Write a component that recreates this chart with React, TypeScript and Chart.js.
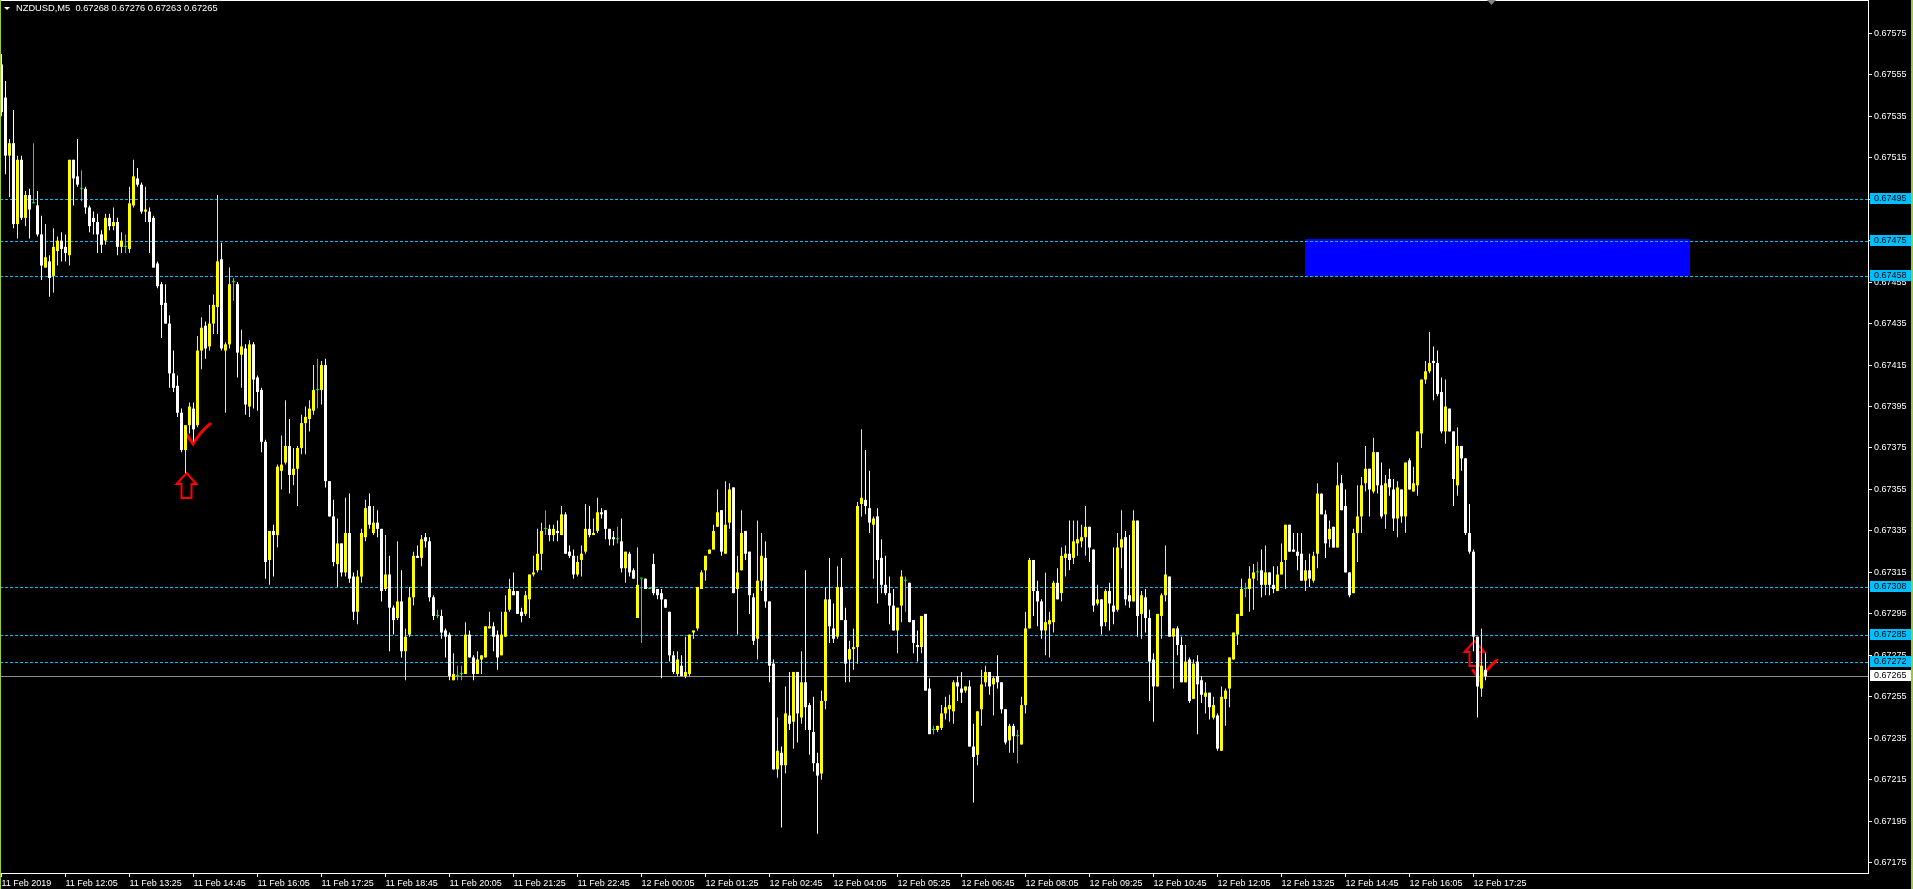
import React, { useEffect, useRef } from "react";
import { Chart, registerables } from "chart.js";

Chart.register(...registerables);

// Prices are stored as points above 0.67000 (1 point = 0.00001)
const opens = [
  560,544,516,522,483,514,486,497,493,492, 478,462,465,458,470,475,472,468,514,506,
  500,500,491,486,484,478,475,486,482,484, 472,472,471,492,505,502,489,489,486,464,
  454,445,435,411,405,392,374,386,394,386, 422,434,424,435,443,466,422,425,455,454,
  420,423,395,425,409,403,378,321,335,333, 364,368,376,362,365,375,387,389,393,403,
  403,415,359,342,319,329,315,334,313,296, 313,332,347,334,339,336,307,314,298,293,
  301,277,285,303,323,322,332,330,303,294, 294,287,285,263,265,266,266,285,274,266,
  273,274,288,289,285,275,284,297,306,306, 296,295,302,314,316,324,336,336,333,335,
  333,343,325,323,314,321,325,336,333,335, 344,345,336,332,331,330,317,324,316,293,
  312,312,307,319,307,305,302,296,275,266, 270,265,266,286,288,307,316,324,326,337,
  345,324,339,356,307,316,335,325,303,283, 311,322,301,271,220,228,222,246,243,267,
  245,262,251,238,223,218,253,302,288,284, 308,292,273,278,279,348,350,346,338,342,
  322,309,305,299,287,299,311,310,292,280, 279,295,259,239,239,240,247,249,248,262,
  259,258,260,231,227,249,262,267,261,265, 262,249,234,241,236,232,251,288,321,306,
  301,287,290,291,310,305,322,324,322,329, 330,332,337,326,300,302,291,306,299,297,
  327,332,304,301,340,295,303,293,273,260, 294,304,313,284,288,280,262,273,254,272,
  263,255,257,245,246,229,254,259,273,285, 294,307,307,312,315,316,309,315,309,306,
  314,321,338,326,325,324,311,316,311,324, 353,343,331,337,327,358,347,315,305,334,
  342,358,365,354,373,357,343,360,355,341, 355,342,369,354,357,382,408,412,417,416,
  402,383,394,383,357,376,370,334,325,284, 259,268,
];
const highs = [
  565,552,524,538,516,516,499,500,522,499, 487,483,468,481,477,479,478,514,514,524,
  509,501,492,489,488,480,488,488,491,486, 479,478,501,514,510,503,501,491,487,465,
  455,454,439,422,410,394,386,397,397,429, 438,436,444,449,497,474,426,462,457,455,
  432,425,427,426,410,404,379,335,338,367, 381,398,389,375,376,391,395,398,415,418,
  417,418,359,350,341,329,351,353,315,316, 336,350,353,347,345,336,333,323,299,330,
  316,288,308,325,328,333,334,332,304,297, 297,288,286,276,270,270,291,287,275,277,
  275,289,296,291,287,296,304,312,315,306, 298,306,314,323,336,339,345,338,338,340,
  347,344,328,326,323,328,348,347,341,351, 346,345,336,335,337,341,325,325,317,327,
  312,312,308,324,307,307,302,296,277,277, 275,284,285,287,308,316,323,326,338,355,
  345,359,358,356,323,345,335,325,305,340, 334,330,301,273,245,231,260,267,267,267,
  277,316,252,255,228,258,308,322,300,318, 322,298,282,288,349,384,374,364,342,346,
  331,323,313,307,298,316,313,310,292,287, 294,295,264,241,241,251,255,256,263,265,
  267,260,263,242,248,268,270,267,265,275, 262,249,242,242,239,255,296,322,321,311,
  302,315,296,311,317,327,328,340,340,340, 338,347,337,326,309,302,307,310,327,334,
  345,335,333,345,340,306,307,297,276,295, 305,328,313,288,289,284,280,274,273,275,
  265,262,257,255,247,260,259,274,286,295, 312,310,318,319,320,326,328,315,318,318,
  329,338,338,334,334,334,321,324,325,358, 353,345,340,337,368,362,355,315,336,357,
  361,376,365,380,373,368,362,365,360,359, 355,368,370,366,383,408,417,431,424,422,
  409,408,394,383,385,376,370,348,326,284, 288,276,
];
const lows = [
  535,507,496,481,476,485,482,476,493,477, 456,462,448,450,463,465,465,463,492,501,
  494,488,479,478,469,469,473,480,480,468, 469,469,469,491,501,488,484,469,462,452,
  428,435,404,402,390,373,363,382,378,385, 413,418,422,430,430,422,392,423,446,409,
  404,391,390,394,393,373,312,309,313,327, 355,367,353,357,347,372,372,383,391,394,
  396,356,342,318,308,313,313,310,292,290, 310,330,336,333,332,301,306,277,285,292,
  274,263,284,299,322,318,327,301,292,293, 283,274,263,263,263,263,266,274,263,266,
  266,274,288,277,268,275,284,296,304,295, 291,294,293,313,315,316,333,330,330,330,
  333,324,322,312,313,313,324,332,333,334, 341,331,328,328,329,315,310,313,312,293,
  281,307,307,304,302,264,298,272,266,265, 265,264,265,283,287,307,311,324,326,337,
  323,324,336,305,285,316,321,295,280,273, 306,298,262,220,216,192,218,239,230,233,
  242,239,227,219,189,215,249,281,281,283, 292,262,262,268,271,342,343,334,312,300,
  305,304,290,287,276,291,296,291,276,272, 276,258,237,237,238,239,244,243,242,253,
  252,257,231,204,222,241,260,256,246,259, 247,232,228,228,223,232,247,288,294,289,
  283,275,274,286,302,301,313,316,319,323, 327,323,320,296,299,285,289,287,290,296,
  317,299,298,301,284,283,286,253,243,260, 283,301,284,259,275,262,262,252,254,237,
  252,247,244,244,229,229,241,250,273,280, 294,303,296,297,311,303,304,304,305,306,
  314,307,325,325,316,311,306,308,310,317, 343,322,327,327,327,345,315,303,305,320,
  334,354,342,353,353,341,336,352,335,332, 339,334,355,354,352,375,406,411,398,400,
  382,377,383,347,352,364,333,324,277,245, 255,263,
];
const closes = [
  537,516,522,483,514,486,497,490,493,478, 463,467,457,472,475,471,469,514,505,502,
  500,491,482,484,478,473,486,482,484,472, 475,472,493,506,502,489,490,484,462,453,
  444,435,411,404,392,374,386,395,384,422, 433,423,435,444,465,423,425,454,455,421,
  424,396,425,408,402,378,320,335,333,366, 367,376,362,365,375,387,390,394,403,403,
  415,359,342,320,329,315,334,312,296,313, 334,346,338,339,336,306,314,298,292,301,
  277,284,303,323,322,331,330,303,294,294, 286,284,265,266,265,266,285,274,266,273,
  275,289,289,284,274,285,296,307,304,295, 294,304,314,315,324,335,336,333,336,334,
  343,324,323,314,320,324,336,333,334,344, 343,336,331,331,331,317,325,315,312,309,
  312,307,307,305,304,302,298,275,267,273, 265,267,285,287,308,315,323,326,335,344,
  325,338,355,305,315,334,324,304,282,311, 323,301,270,220,229,222,247,242,267,247,
  262,250,239,223,217,253,302,289,283,308, 292,271,278,279,347,351,347,339,341,321,
  309,305,299,287,298,313,311,291,281,279, 294,258,237,239,241,247,250,251,262,260,
  257,260,231,226,248,261,267,260,264,262, 249,233,241,236,236,251,288,321,306,301,
  287,291,292,310,302,323,324,321,330,331, 332,337,327,299,302,289,306,300,296,327,
  331,302,301,340,294,304,293,272,260,295, 304,314,284,288,280,262,272,253,271,261,
  256,257,250,251,230,255,258,274,286,295, 307,307,312,315,315,309,315,309,307,314,
  320,338,325,325,323,311,316,312,323,353, 343,329,336,327,357,345,315,304,334,342,
  357,365,355,373,357,342,358,356,341,356, 342,368,355,358,383,408,412,416,416,401,
  383,395,383,360,376,370,334,325,284,260, 270,265,
];

const tickLabels = [
  "11 Feb 2019", "11 Feb 12:05", "11 Feb 13:25", "11 Feb 14:45", "11 Feb 16:05", "11 Feb 17:25",
  "11 Feb 18:45", "11 Feb 20:05", "11 Feb 21:25", "11 Feb 22:45", "12 Feb 00:05", "12 Feb 01:25",
  "12 Feb 02:45", "12 Feb 04:05", "12 Feb 05:25", "12 Feb 06:45", "12 Feb 08:05", "12 Feb 09:25",
  "12 Feb 10:45", "12 Feb 12:05", "12 Feb 13:25", "12 Feb 14:45", "12 Feb 16:05", "12 Feb 17:25",
];
const barsPerTick = 16;
const yTickValues = [
  0.67575, 0.67555, 0.67535, 0.67515, 0.67495, 0.67475, 0.67455, 0.67435, 0.67415, 0.67395, 0.67375,
  0.67355, 0.67335, 0.67315, 0.67295, 0.67275, 0.67255, 0.67235, 0.67215, 0.67195, 0.67175,
];
const levelLines = [0.67495, 0.67475, 0.67458, 0.67308, 0.67285, 0.67272];
const lastPrice = 0.67265;
const zone = { fromBar: 325.75, toBar: 422, top: 0.67476, bottom: 0.67458 };
const upArrows = [{ bar: 46, price: 0.67363 }, { bar: 368, price: 0.67282 }];
const checkMarks = [{ bar: 47.9, price: 0.67377 }, { bar: 369.6, price: 0.67263 }];
const headerText = "NZDUSD,M5  0.67268 0.67276 0.67263 0.67265";

const X_MIN = -0.375;
const X_MAX = 466.625;
const Y_MIN = 0.6717003;
const Y_MAX = 0.6759106;

const BULL = "#FFFF00";
const BEAR = "#FFFFFF";
const DOJI = "#00FF00";
const FONT = "'Liberation Sans', Arial, sans-serif";

const toPrice = (v: number) => Math.round(67000 + v) / 100000;

export default function App() {
  const ref = useRef<HTMLCanvasElement>(null);

  useEffect(() => {
    const canvas = ref.current;
    if (!canvas) return;
    const colors = opens.map((o, i) => (closes[i] > o ? BULL : closes[i] < o ? BEAR : DOJI));

    const bgPlugin = {
      id: "bg",
      beforeDraw(chart: any) {
        const { ctx, width, height } = chart;
        ctx.save();
        ctx.fillStyle = "#000000";
        ctx.fillRect(0, 0, width, height);
        ctx.restore();
      },
    };

    const underlay = {
      id: "underlay",
      beforeDatasetsDraw(chart: any) {
        const { ctx, chartArea: ca } = chart;
        const xs = chart.scales.x;
        const ys = chart.scales.y;
        ctx.save();
        ctx.beginPath();
        ctx.rect(ca.left, ca.top, ca.right - ca.left, ca.bottom - ca.top);
        ctx.clip();
        // zone rectangle
        const zx1 = Math.round(xs.getPixelForValue(zone.fromBar));
        const zx2 = Math.round(xs.getPixelForValue(zone.toBar));
        const zy1 = Math.round(ys.getPixelForValue(zone.top));
        const zy2 = Math.round(ys.getPixelForValue(zone.bottom));
        ctx.fillStyle = "#0000FF";
        ctx.fillRect(zx1, zy1, zx2 - zx1, zy2 - zy1);
        // dashed levels
        ctx.lineWidth = 1;
        ctx.strokeStyle = "#00BFFF";
        ctx.setLineDash([3, 2]);
        for (const lv of levelLines) {
          const py = Math.round(ys.getPixelForValue(lv)) + 0.5;
          ctx.beginPath();
          ctx.moveTo(ca.left, py);
          ctx.lineTo(ca.right, py);
          ctx.stroke();
        }
        ctx.setLineDash([]);
        // last price line
        ctx.strokeStyle = "#8C8C8C";
        const lp = Math.round(ys.getPixelForValue(lastPrice)) + 0.5;
        ctx.beginPath();
        ctx.moveTo(ca.left, lp);
        ctx.lineTo(ca.right, lp);
        ctx.stroke();
        // up arrows
        ctx.strokeStyle = "#FF0000";
        ctx.lineWidth = 2;
        ctx.lineJoin = "miter";
        for (const a of upArrows) {
          const cx = Math.round(xs.getPixelForValue(a.bar)) + 0.5;
          const ty = Math.round(ys.getPixelForValue(a.price));
          ctx.beginPath();
          ctx.moveTo(cx, ty);
          ctx.lineTo(cx + 10, ty + 11);
          ctx.lineTo(cx + 5, ty + 11);
          ctx.lineTo(cx + 5, ty + 25);
          ctx.lineTo(cx - 5, ty + 25);
          ctx.lineTo(cx - 5, ty + 11);
          ctx.lineTo(cx - 10, ty + 11);
          ctx.closePath();
          ctx.stroke();
        }
        // check marks
        ctx.lineWidth = 3;
        ctx.lineCap = "round";
        for (const c of checkMarks) {
          const bx = xs.getPixelForValue(c.bar);
          const by = ys.getPixelForValue(c.price);
          ctx.beginPath();
          ctx.moveTo(bx - 7, by - 10);
          ctx.lineTo(bx, by);
          ctx.quadraticCurveTo(bx + 7, by - 12, bx + 17, by - 20);
          ctx.stroke();
        }
        ctx.restore();
      },
    };

    const overlay = {
      id: "overlay",
      afterDraw(chart: any) {
        const { ctx, chartArea: ca, width, height } = chart;
        const ys = chart.scales.y;
        ctx.save();
        // top border
        ctx.fillStyle = "#FFFFFF";
        ctx.fillRect(0, 0, ca.right + 1, 1);
        // window frame
        ctx.fillStyle = "#9ACD32";
        ctx.fillRect(0, 0, 1, height);
        ctx.fillRect(width - 2, 0, 2, height);
        // price boxes
        ctx.font = `9px ${FONT}`;
        ctx.textBaseline = "middle";
        ctx.textAlign = "left";
        const box = (v: number, bg: string, fg: string) => {
          const py = Math.round(ys.getPixelForValue(v));
          ctx.fillStyle = bg;
          ctx.fillRect(ys.left + 2, py - 6, width - 2 - (ys.left + 2), 11);
          ctx.fillStyle = fg;
          ctx.fillText(v.toFixed(5), ys.left + 6, py);
        };
        for (const lv of levelLines) box(lv, "#00BFFF", "#000000");
        box(lastPrice, "#FFFFFF", "#000000");
        // header
        ctx.fillStyle = "#FFFFFF";
        ctx.beginPath();
        ctx.moveTo(4, 7);
        ctx.lineTo(10, 7);
        ctx.lineTo(7, 10);
        ctx.closePath();
        ctx.fill();
        ctx.font = `9.3px ${FONT}`;
        ctx.fillText(headerText, 16, 8.5);
        // shift marker
        ctx.fillStyle = "#808080";
        ctx.beginPath();
        ctx.moveTo(1487, 0);
        ctx.lineTo(1496, 0);
        ctx.lineTo(1491.5, 5);
        ctx.closePath();
        ctx.fill();
        ctx.restore();
      },
    };

    const chart = new Chart(canvas, {
      type: "bar",
      data: {
        datasets: [
          {
            label: "body",
            data: opens.map((o, i) => ({ x: i, y: [toPrice(o), toPrice(closes[i])] })) as any,
            backgroundColor: colors,
            borderWidth: 0,
            barThickness: 3,
            minBarLength: 1,
            grouped: false,
            inflateAmount: 0,
          } as any,
          {
            label: "wick",
            data: highs.map((h, i) => ({ x: i, y: [toPrice(lows[i]), toPrice(h)] })) as any,
            backgroundColor: colors,
            borderWidth: 0,
            barThickness: 1,
            minBarLength: 1,
            grouped: false,
            inflateAmount: 0,
          } as any,
        ],
      },
      options: {
        animation: false,
        responsive: false,
        maintainAspectRatio: false,
        events: [],
        layout: { padding: 0 },
        plugins: { legend: { display: false }, tooltip: { enabled: false }, title: { display: false } },
        scales: {
          x: {
            type: "linear",
            position: "bottom",
            min: X_MIN,
            max: X_MAX,
            offset: false,
            bounds: "data",
            grid: { display: true, drawOnChartArea: false, drawTicks: true, tickLength: 4, color: "#FFFFFF", offset: false },
            border: { display: true, color: "#FFFFFF", width: 1 },
            ticks: {
              autoSkip: false,
              maxRotation: 0,
              minRotation: 0,
              align: "start",
              padding: 1,
              color: "#FFFFFF",
              font: { family: FONT, size: 9 },
              callback: (_v: any, idx: number) => tickLabels[idx],
            },
            afterBuildTicks: (s: any) => {
              s.ticks = tickLabels.map((_, k) => ({ value: k * barsPerTick }));
            },
            afterFit: (s: any) => {
              s.height = 16;
              s.paddingLeft = 0;
              s.paddingRight = 0;
            },
          } as any,
          y: {
            type: "linear",
            position: "right",
            min: Y_MIN,
            max: Y_MAX,
            beginAtZero: false,
            bounds: "data",
            grid: { display: true, drawOnChartArea: false, drawTicks: true, tickLength: 4, color: "#FFFFFF" },
            border: { display: true, color: "#FFFFFF", width: 1 },
            ticks: {
              autoSkip: false,
              padding: 2,
              color: "#FFFFFF",
              font: { family: FONT, size: 9 },
              callback: (v: any) => Number(v).toFixed(5),
            },
            afterBuildTicks: (s: any) => {
              s.ticks = yTickValues.map((v) => ({ value: v }));
            },
            afterFit: (s: any) => {
              s.width = 45;
              s.paddingTop = 0;
              s.paddingBottom = 0;
            },
          } as any,
        },
      } as any,
      plugins: [bgPlugin, underlay, overlay],
    });
    return () => chart.destroy();
  }, []);

  return (
    <div style={{ position: "fixed", left: 0, top: 0, width: 1913, height: 889, background: "#000" }}>
      <canvas ref={ref} width={1913} height={889} style={{ display: "block", width: 1913, height: 889 }} />
    </div>
  );
}
